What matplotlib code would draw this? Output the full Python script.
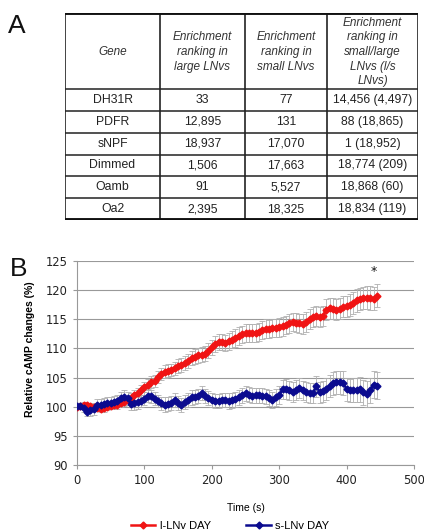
import matplotlib
matplotlib.use("Agg")
import numpy as np
from matplotlib import pyplot as plt

# ---- panel A data ----
col_headers = ["Gene",
               "Enrichment\nranking in\nlarge LNvs",
               "Enrichment\nranking in\nsmall LNvs",
               "Enrichment\nranking in\nsmall/large\nLNvs (l/s\nLNvs)"]
genes = ["DH31R", "PDFR", "sNPF", "Dimmed", "Oamb", "Oa2"]
rank_large = ["33", "12,895", "18,937", "1,506", "91", "2,395"]
rank_small = ["77", "131", "17,070", "17,663", "5,527", "18,325"]
rank_ratio = ["14,456 (4,497)", "88 (18,865)", "1 (18,952)",
              "18,774 (209)", "18,868 (60)", "18,834 (119)"]

# ---- panel B data (one sample every 5 s) ----
time_s = np.arange(0, 450, 5)
l_lnv = [100.0, 100.1, 100.4, 100.3, 100.2, 100.0, 99.8, 99.7, 99.8, 100.0,
         100.2, 100.3, 100.4, 100.6, 100.8, 101.1, 101.5, 102.0, 102.4, 102.9,
         103.4, 103.8, 104.3, 104.4, 105.1, 105.6, 106.0, 106.2, 106.3, 106.6,
         107.0, 107.2, 107.5, 107.9, 108.3, 108.6, 108.8, 108.9, 109.1, 109.6,
         110.2, 110.7, 111.1, 111.1, 110.9, 111.2, 111.5, 111.8, 112.1, 112.4,
         112.6, 112.6, 112.6, 112.6, 112.8, 113.1, 113.4, 113.3, 113.5, 113.5,
         113.6, 113.8, 114.0, 114.3, 114.5, 114.4, 114.3, 114.2, 114.5, 115.0,
         115.4, 115.5, 115.4, 115.6, 116.6, 116.9, 116.8, 116.6, 116.8, 117.1,
         117.2, 117.4, 117.7, 118.2, 118.5, 118.6, 118.7, 118.6, 118.5, 119.0]
l_err = [0.3, 0.3, 0.4, 0.4, 0.5, 0.5, 0.5, 0.5, 0.6, 0.6,
         0.6, 0.6, 0.7, 0.7, 0.7, 0.8, 0.8, 0.8, 0.8, 0.9,
         0.9, 0.9, 1.0, 1.0, 1.0, 1.0, 1.1, 1.1, 1.1, 1.1,
         1.2, 1.2, 1.2, 1.2, 1.2, 1.3, 1.3, 1.3, 1.3, 1.3,
         1.3, 1.4, 1.4, 1.4, 1.4, 1.4, 1.4, 1.5, 1.5, 1.5,
         1.5, 1.5, 1.5, 1.5, 1.5, 1.5, 1.6, 1.6, 1.6, 1.6,
         1.6, 1.6, 1.6, 1.6, 1.6, 1.6, 1.6, 1.7, 1.7, 1.7,
         1.7, 1.7, 1.7, 1.7, 1.8, 1.8, 1.8, 1.8, 1.8, 1.8,
         1.8, 1.9, 1.9, 1.9, 1.9, 1.9, 2.0, 2.0, 2.0, 2.0]
s_lnv = [100.1, 100.1, 99.8, 99.2, 99.4, 99.6, 100.4, 100.3, 100.5, 100.6,
         100.7, 100.8, 101.0, 101.5, 101.7, 101.5, 100.5, 100.6, 100.8, 101.0,
         101.4, 101.9, 101.8, 101.4, 101.0, 100.6, 100.4, 100.5, 100.7, 101.2,
         100.6, 100.3, 100.8, 101.2, 101.6, 101.7, 101.9, 102.3, 101.9, 101.5,
         101.2, 101.0, 101.0, 101.1, 101.2, 101.0, 101.1, 101.3, 101.6, 102.0,
         102.3, 102.1, 101.9, 102.0, 102.0, 101.9, 101.8, 101.5, 101.2, 101.6,
         102.0, 103.0, 103.0, 102.8, 102.6, 102.9, 103.2, 102.8, 102.5, 102.4,
         102.3, 103.5, 102.5, 102.7, 103.1, 103.6, 104.0, 104.2, 104.2, 104.1,
         103.0, 102.8, 102.9, 102.9, 103.0, 102.5, 102.2, 102.8, 103.8, 103.6]
s_err = [0.3, 0.4, 0.6, 0.8, 0.9, 1.0, 1.0, 1.0, 1.0, 1.0,
         1.0, 1.0, 1.0, 1.1, 1.1, 1.1, 1.1, 1.1, 1.1, 1.1,
         1.1, 1.1, 1.1, 1.1, 1.1, 1.1, 1.2, 1.2, 1.2, 1.2,
         1.2, 1.2, 1.2, 1.2, 1.2, 1.2, 1.2, 1.2, 1.2, 1.2,
         1.2, 1.2, 1.2, 1.2, 1.2, 1.3, 1.3, 1.3, 1.3, 1.3,
         1.3, 1.3, 1.3, 1.3, 1.3, 1.3, 1.3, 1.3, 1.4, 1.4,
         1.5, 1.6, 1.7, 1.7, 1.7, 1.7, 1.7, 1.7, 1.7, 1.7,
         1.7, 1.8, 1.8, 1.8, 1.9, 1.9, 2.0, 2.0, 2.0, 2.0,
         2.0, 2.0, 2.0, 2.1, 2.1, 2.1, 2.2, 2.2, 2.3, 2.3]

arial = ["Liberation Sans", "DejaVu Sans"]

fig = plt.figure(figsize=(4.24, 5.31), dpi=100)

# ---------- panel A : table drawn in pixel coordinates ----------
W, H = 424, 531
tx0, tx1, ty0, ty1 = 65, 418, 13, 220
tab = fig.add_axes([tx0 / W, 1 - ty1 / H, (tx1 - tx0) / W, (ty1 - ty0) / H])
tab.set_xlim(tx0, tx1)
tab.set_ylim(ty1, ty0)
tab.axis("off")

col_x = [65, 160, 245, 327, 418]
header_bottom = 89
row_h = (ty1 - header_bottom) / len(genes)
row_y = [header_bottom + i * row_h for i in range(len(genes) + 1)]

for x in col_x:
    tab.plot([x, x], [ty0, ty1], color="#222222", lw=1.2, solid_capstyle="butt")
for y in row_y[:-1]:
    tab.plot([tx0, tx1], [y, y], color="#222222", lw=1.1)
for y in (ty0, ty1):
    tab.plot([tx0 - 1, tx1 + 1], [y, y], color="#111111", lw=2.8, solid_capstyle="butt")

for j, h in enumerate(col_headers):
    cx = (col_x[j] + col_x[j + 1]) / 2
    tab.text(cx, (ty0 + header_bottom) / 2 + 1, h, ha="center", va="center",
             fontsize=8.5, style="italic", family=arial, color="#333333",
             linespacing=1.3)

columns = [genes, rank_large, rank_small, rank_ratio]
for j, col in enumerate(columns):
    cx = (col_x[j] + col_x[j + 1]) / 2
    for i, val in enumerate(col):
        cy = (row_y[i] + row_y[i + 1]) / 2
        tab.text(cx, cy, val, ha="center", va="center", fontsize=8.8,
                 family=arial, color="#222222")

fig.text(8 / W, 1 - 33 / H, "A", fontsize=19, family=arial, color="#111111")

# ---------- panel B : cAMP time course ----------
ax = fig.add_axes([77 / W, 1 - 465.3 / H, (414 - 77) / W, (465.3 - 260.7) / H])
ax.errorbar(time_s, l_lnv, yerr=l_err, fmt="none", ecolor="#b0b0b0",
            elinewidth=0.6, capsize=2, capthick=0.6, zorder=2)
ax.errorbar(time_s, s_lnv, yerr=s_err, fmt="none", ecolor="#b0b0b0",
            elinewidth=0.6, capsize=2, capthick=0.6, zorder=2)
ax.plot(time_s, l_lnv, color="#f01414", marker="D", ms=3.5, lw=1.8,
        label="l-LNv DAY", zorder=3)
ax.plot(time_s, s_lnv, color="#0b0b8f", marker="D", ms=3.5, lw=1.8,
        label="s-LNv DAY", zorder=3)
ax.text(441, 123.1, "*", ha="center", va="center", fontsize=9, color="#111111")

ax.set_xlim(0, 500)
ax.set_ylim(90, 125)
ax.set_xticks(range(0, 501, 100))
ax.set_yticks(range(90, 126, 5))
ax.yaxis.grid(True, color="#999999", lw=0.8)
ax.set_axisbelow(True)
for side in ("top", "right"):
    ax.spines[side].set_visible(False)
for side in ("left", "bottom"):
    ax.spines[side].set_color("#999999")
    ax.spines[side].set_linewidth(0.8)
ax.tick_params(colors="#999999", labelcolor="#222222", labelsize=8.3,
               length=3, width=0.8)
ax.set_xlabel("Time (s)", fontsize=7.5, family=arial)
ax.xaxis.set_label_coords(0.5, -0.185)
ax.set_ylabel("Relative cAMP changes (%)", fontsize=7.5, family=arial,
              fontweight="bold")
ax.yaxis.set_label_coords(-0.125, 0.568)

fig.legend(loc="center", bbox_to_anchor=(230 / W, 1 - 526 / H), ncol=2,
           frameon=False, prop={"family": arial, "size": 8},
           handlelength=2.2, columnspacing=3.2, handletextpad=0.4)

fig.text(10 / W, 1 - 276 / H, "B", fontsize=19, family=arial, color="#111111")

fig.savefig("out.png", dpi=100)
